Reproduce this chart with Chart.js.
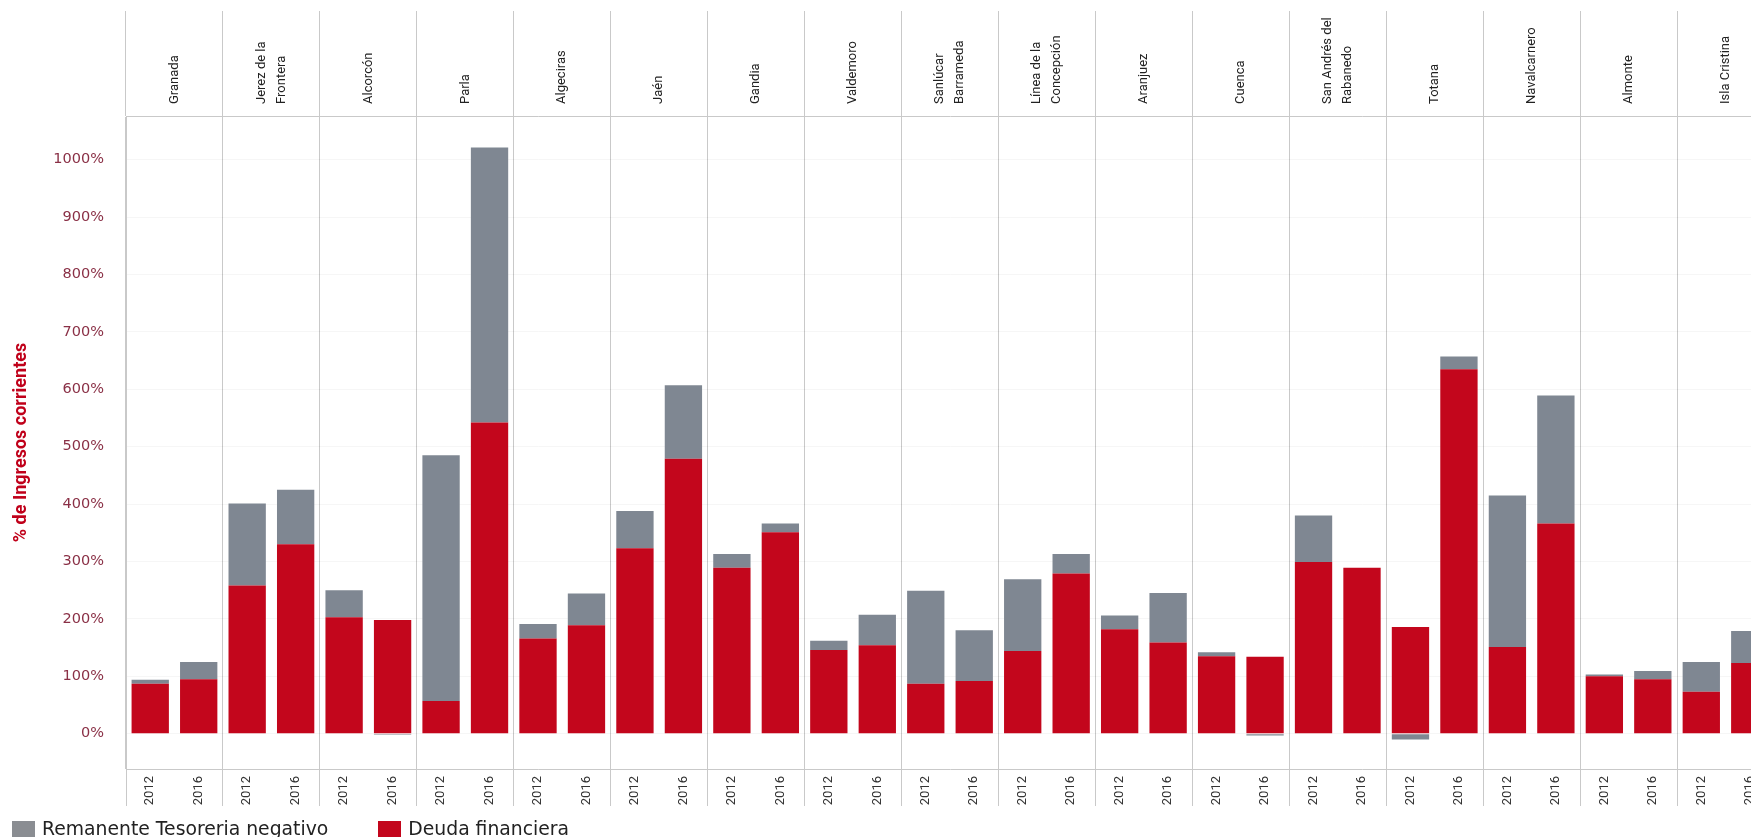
<!DOCTYPE html>
<html>
<head>
<meta charset="utf-8">
<script src="https://cdn.jsdelivr.net/npm/chart.js@4"></script>
<style>
  html, body { margin: 0; padding: 0; background: #fff; overflow: hidden; }
  #wrap { position: relative; width: 1751px; height: 837px; overflow: hidden; }
  #chart { position: absolute; left: 0; top: 0; }
  .legend { position: absolute; top: 820px; left: 12px; display: flex; align-items: center; font: 18.8px 'DejaVu Sans', sans-serif; color: #222; line-height: 18px; }
  .legend .box { width: 23px; height: 17px; margin-right: 7px; }
  .legend .item { display: flex; align-items: center; margin-right: 50px; }
</style>
</head>
<body>
<div id="wrap">
  <canvas id="chart" width="1780" height="837"></canvas>
  <div class="legend">
    <div class="item"><div class="box" style="background:#8a8d92"></div>Remanente Tesoreria negativo</div>
    <div class="item"><div class="box" style="background:#c3061c"></div>Deuda financiera</div>
  </div>
</div>
<script>
const cities = ['Granada', ['Jerez de la', 'Frontera'], 'Alcorcón', 'Parla', 'Algeciras', 'Jaén', 'Gandia',
    'Valdemoro', ['Sanlúcar', 'Barrameda'], ['Línea de la', 'Concepción'], 'Aranjuez', 'Cuenca',
    ['San Andrés del', 'Rabanedo'], 'Totana', 'Navalcarnero', 'Almonte', 'Isla Cristina']
const years = ['2012', '2016']

// pairs per city: 2012, 2016
const deuda = [87, 95, 258, 330, 203, 198, 57, 542, 166, 189, 323, 479, 289, 351, 146, 154, 87, 92,
    144, 279, 182, 159, 135, 134, 299, 289, 186, 635, 151, 366, 100, 95, 73, 123]
const remanente = [7, 30, 143, 95, 47, -2, 428, 479, 25, 55, 65, 128, 24, 15, 16, 53, 162, 88,
    125, 34, 24, 86, 7, -3, 81, -1, -10, 22, 264, 223, 3, 14, 52, 56]

const yTicks = [0, 100, 200, 300, 400, 500, 600, 700, 800, 900, 1000]

const xLabels = cities.flatMap(() => years)
const lineColor = '#c9c9c9'
const narrow = "'Liberation Sans Narrow', 'Roboto'"

new Chart('chart', {
    type: 'bar',
    data: {
        labels: xLabels,
        datasets: [
            { label: 'Deuda financiera', data: deuda, backgroundColor: '#c3061c', barPercentage: 0.77, categoryPercentage: 1 },
            { label: 'Remanente Tesoreria negativo', data: remanente, backgroundColor: '#7f8792', barPercentage: 0.77, categoryPercentage: 1 }
        ]
    },
    options: {
        responsive: false,
        animation: false,
        layout: { padding: { top: 11, right: 6, bottom: 31, left: 0 } },
        plugins: { legend: { display: false }, tooltip: { enabled: false } },
        scales: {
            x: {
                stacked: true,
                position: 'bottom',
                grid: {
                    drawOnChartArea: false,
                    tickLength: 37,
                    color: ctx => (ctx.index === undefined || ctx.index % 2 === 0) ? lineColor : 'rgba(0,0,0,0)'
                },
                border: { color: lineColor },
                ticks: { autoSkip: false, minRotation: 90, maxRotation: 90, padding: -30, color: '#333',
                    font: { family: narrow, size: 13 } },
                afterFit: s => { s.height = 37 }
            },
            xTop: {
                type: 'category',
                labels: cities,
                position: 'top',
                offset: true,
                grid: { offset: true, tickLength: 105, color: lineColor },
                border: { color: lineColor },
                ticks: { autoSkip: false, minRotation: 90, maxRotation: 90, padding: -93, color: '#222',
                    labelOffset: 30,
                    // single-line names get a taller line so that both kinds end up centred
                    font: ctx => ({ family: narrow, size: 13,
                        lineHeight: Array.isArray(cities[ctx.index]) ? '20px' : '30px' }) },
                afterFit: s => { s.height = 105 }
            },
            y: {
                stacked: true,
                min: -61.5,
                max: 1076,
                afterBuildTicks: s => { s.ticks = yTicks.map(v => ({ value: v })) },
                grid: { drawTicks: false, color: 'rgba(0,0,0,0.035)' },
                border: { color: lineColor },
                ticks: { padding: 22, color: '#8a3046', callback: v => v + '%',
                    font: { family: 'DejaVu Sans', size: 14.5 } },
                title: { display: true, text: '% de Ingresos corrientes', color: '#c0001a',
                    font: { family: narrow, size: 18, weight: 'bold' },
                    padding: { top: 11 } },
                afterFit: s => { s.width = 126 }
            }
        }
    }
})
</script>
</body>
</html>
